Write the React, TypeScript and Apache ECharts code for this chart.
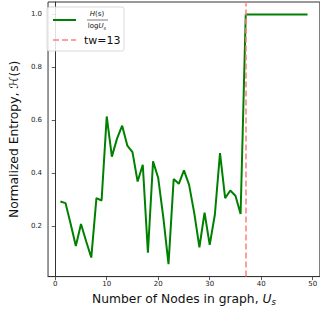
import React, { useEffect, useRef } from "react";
import * as echarts from "echarts";

const nodes: number[] = [
  1, 2, 3, 4, 5, 6, 7, 8, 9, 10, 11, 12, 13, 14, 15, 16, 17, 18, 19, 20, 21, 22, 23, 24, 25,
  26, 27, 28, 29, 30, 31, 32, 33, 34, 35, 36, 37, 38, 39, 40, 41, 42, 43, 44, 45, 46, 47, 48, 49,
];
const entropy: number[] = [
  0.292, 0.286, 0.207, 0.124, 0.207, 0.142, 0.08, 0.305, 0.296, 0.614, 0.462, 0.53, 0.579,
  0.504, 0.479, 0.368, 0.431, 0.098, 0.444, 0.381, 0.23, 0.055, 0.377, 0.359, 0.41, 0.355,
  0.248, 0.119, 0.25, 0.128, 0.242, 0.475, 0.305, 0.334, 0.314, 0.245, 1.0, 1.0, 1.0, 1.0,
  1.0, 1.0, 1.0, 1.0, 1.0, 1.0, 1.0, 1.0, 1.0,
];
const xTicks: number[] = [0, 10, 20, 30, 40, 50];
const yTicks: number[] = [0.2, 0.4, 0.6, 0.8, 1.0];
const thresholdX = 37;
const legendLabel = "tw=13";

const FONT = "DejaVu Sans";

export default function App() {
  const ref = useRef<HTMLDivElement>(null);
  useEffect(() => {
    if (!ref.current) return;
    const chart = echarts.init(ref.current, undefined, { renderer: "svg" });
    chart.setOption({
      animation: false,
      backgroundColor: "#fff",
      textStyle: { fontFamily: FONT },
      grid: {
        left: 43,
        top: 2,
        width: 282,
        height: 275,
        show: true,
        borderColor: "#333",
        borderWidth: 1,
        backgroundColor: "transparent",
      },
      xAxis: {
        type: "value",
        min: -1.4,
        max: 51.4,
        name: "Number of Nodes in graph, {i|U}{sub|s}",
        nameLocation: "middle",
        nameGap: 14,
        nameTextStyle: {
          fontFamily: FONT,
          fontSize: 12.3,
          color: "#111",
          verticalAlign: "top",
          rich: {
            i: { fontFamily: FONT, fontSize: 12.3, fontStyle: "italic", color: "#111" },
            sub: { fontFamily: FONT, fontSize: 8.5, fontStyle: "italic", color: "#111", verticalAlign: "bottom", padding: [6, 0, 0, 0] },
          },
        },
        axisLine: { show: true, lineStyle: { color: "#333", width: 1 } },
        axisTick: { show: true, length: 3.5, customValues: xTicks, lineStyle: { color: "#333", width: 0.8 } },
        axisLabel: {
          customValues: xTicks,
          fontSize: 7,
          color: "#222",
          margin: 4,
          fontFamily: FONT,
          formatter: (v: number) => String(v),
        },
        splitLine: { show: false },
      },
      yAxis: {
        type: "value",
        min: 0.008,
        max: 1.047,
        name: "Normalized Entropy, ℋ(s)",
        nameLocation: "middle",
        nameGap: 20,
        nameTextStyle: { fontFamily: FONT, fontSize: 12.3, color: "#111" },
        axisLine: { show: true, lineStyle: { color: "#333", width: 1 } },
        axisTick: { show: true, length: 3.5, customValues: yTicks, lineStyle: { color: "#333", width: 0.8 } },
        axisLabel: {
          customValues: yTicks,
          fontSize: 7,
          color: "#222",
          margin: 6,
          fontFamily: FONT,
          formatter: (v: number) => v.toFixed(1),
        },
        splitLine: { show: false },
      },
      series: [
        {
          type: "line",
          data: nodes.map((x, i) => [x, entropy[i]]),
          showSymbol: false,
          symbol: "none",
          lineStyle: { color: "#008000", width: 2 },
          z: 2,
          markLine: {
            silent: true,
            symbol: "none",
            label: { show: false },
            lineStyle: { color: "#ff7f7f", width: 1.5, type: [6, 3] },
            data: [{ xAxis: thresholdX }],
            z: 3,
          },
        },
      ],
      graphic: [
        {
          type: "rect",
          shape: { x: 47, y: 7, width: 77, height: 44, r: 2 },
          style: { fill: "rgba(255,255,255,0.85)", stroke: "#d0d0d0", lineWidth: 0.8 },
          z: 10,
        },
        {
          type: "line",
          shape: { x1: 53, y1: 20, x2: 76, y2: 20 },
          style: { stroke: "#008000", lineWidth: 2 },
          z: 11,
        },
        {
          type: "text",
          x: 97,
          y: 14,
          style: {
            text: "{i|H}(s)",
            fontFamily: FONT,
            fontSize: 7,
            fill: "#111",
            align: "center",
            verticalAlign: "middle",
            rich: { i: { fontStyle: "italic", fontFamily: FONT, fontSize: 7, fill: "#111" } },
          },
          z: 11,
        },
        {
          type: "line",
          shape: { x1: 87, y1: 20, x2: 108, y2: 20 },
          style: { stroke: "#222", lineWidth: 0.6 },
          z: 11,
        },
        {
          type: "text",
          x: 97,
          y: 26,
          style: {
            text: "log{i|U}{sub|s}",
            fontFamily: FONT,
            fontSize: 7,
            fill: "#111",
            align: "center",
            verticalAlign: "middle",
            rich: {
              i: { fontStyle: "italic", fontFamily: FONT, fontSize: 7, fill: "#111" },
              sub: { fontStyle: "italic", fontFamily: FONT, fontSize: 5, fill: "#111", verticalAlign: "bottom", padding: [3, 0, 0, 0] },
            },
          },
          z: 11,
        },
        {
          type: "line",
          shape: { x1: 53, y1: 40, x2: 76, y2: 40 },
          style: { stroke: "#ff7f7f", lineWidth: 1.5, lineDash: [6, 3] },
          z: 11,
        },
        {
          type: "text",
          x: 84,
          y: 40,
          style: {
            text: legendLabel,
            fontFamily: FONT,
            fontSize: 11,
            fill: "#111",
            align: "left",
            verticalAlign: "middle",
          },
          z: 11,
        },
      ],
    });
    return () => chart.dispose();
  }, []);
  return (
    <div
      ref={ref}
      style={{ position: "absolute", left: 0, top: 0, width: 320, height: 311, background: "#fff" }}
    />
  );
}
